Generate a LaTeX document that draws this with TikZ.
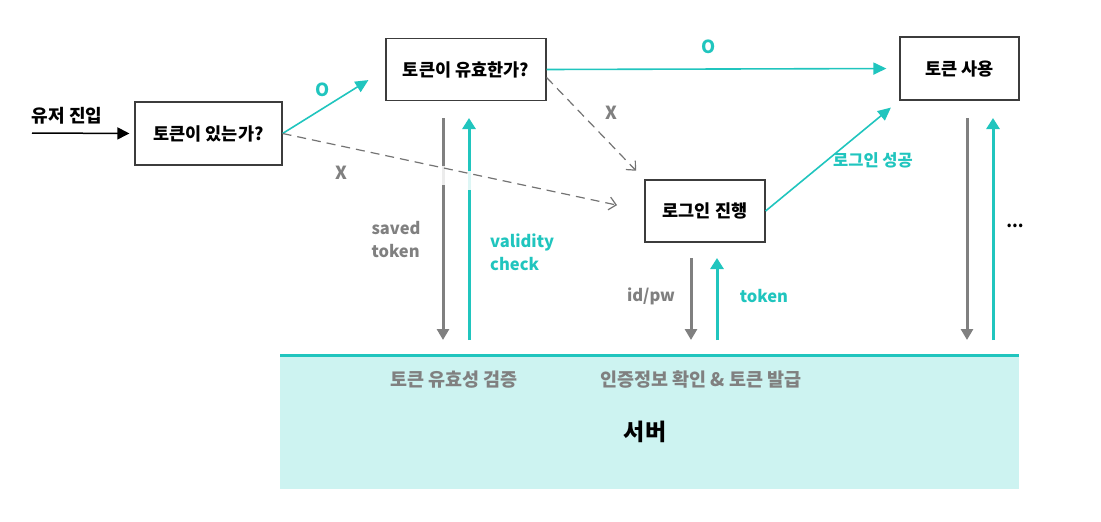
\documentclass[tikz,border=0pt]{standalone}
\usepackage{fontspec}
\setmainfont{Noto Sans CJK KR}
\usetikzlibrary{arrows.meta}
\definecolor{teal1}{RGB}{32,197,190}
\definecolor{gray1}{RGB}{128,128,128}
\definecolor{gray2}{RGB}{115,115,115}
\definecolor{srvfill}{RGB}{205,243,241}
\definecolor{boxline}{RGB}{60,60,60}
\tikzset{
  box/.style={draw=boxline, line width=1.2pt, fill=white, font=\fontsize{17.5}{20}\selectfont\bfseries, inner sep=0pt},
  tealarr/.style={draw=teal1, line width=1.6pt, -{Triangle[length=13pt,width=12pt]}},
  dasharr/.style={draw=gray2, line width=1.2pt, dash pattern=on 9pt off 6pt, -{Straight Barb[length=7pt,width=13pt,line width=1.2pt]}},
  vgray/.style={draw=gray1, line width=3pt, -{Triangle[length=11pt,width=12pt]}},
  vteal/.style={draw=teal1, line width=3pt, -{Triangle[length=11pt,width=13pt]}},
  lbl/.style={font=\fontsize{16.5}{23}\selectfont\bfseries, inner sep=0pt},
  big/.style={font=\fontsize{18}{23}\selectfont\bfseries, inner sep=0pt},
  srvlbl/.style={font=\fontsize{18.5}{22}\selectfont\bfseries, text=gray1, inner sep=0pt},
}
\begin{document}
\begin{tikzpicture}[x=1pt,y=-1pt]
\useasboundingbox (0,0) rectangle (1101,522);
% server
\fill[srvfill] (280,355) rectangle (1019,489);
\draw[teal1, line width=3pt] (280,355) -- (1019,355);
\node[srvlbl] (sv1) at (454,380) {토큰 유효성 검증};
\node[srvlbl] (sv2) at (701,380) {인증정보 확인 \& 토큰 발급};
\node[font=\fontsize{23}{26}\selectfont\bfseries, inner sep=0pt] (srv) at (645,432) {서버};

% boxes
\node[box, minimum width=147pt, minimum height=63pt] (b1) at (208.5,133.5) {토큰이 있는가?};
\node[box, minimum width=160pt, minimum height=62pt] (b2) at (466,69.5) {토큰이 유효한가?};
\node[box, minimum width=119pt, minimum height=63pt] (b3) at (959.5,68.5) {토큰 사용};
\node[box, minimum width=120pt, minimum height=62pt] (b4) at (705,211) {로그인 진행};

% entry
\coordinate (start) at (32,133);
\node[big] (entry) at (67,116) {유저 진입};
\draw[line width=1.5pt, -{Triangle[length=12pt,width=12pt]}, shorten >=5pt] (start) -- (b1.west);

% vertical arrows
\coordinate (g1t) at (443,118); \coordinate (g1b) at (443,340);
\coordinate (t1t) at (469,118); \coordinate (t1b) at (469,340);
\coordinate (g2t) at (691,258); \coordinate (g2b) at (691,340);
\coordinate (t2t) at (717,258); \coordinate (t2b) at (717,340);
\coordinate (g3t) at (967,118); \coordinate (g3b) at (967,340);
\coordinate (t3t) at (993,118); \coordinate (t3b) at (993,340);
\draw[vgray] (g1t) -- (g1b);
\draw[vteal] (t1b) -- (t1t);
\draw[vgray] (g2t) -- (g2b);
\draw[vteal] (t2b) -- (t2t);
\draw[vgray] (g3t) -- (g3b);
\draw[vteal] (t3b) -- (t3t);
% light gap where dashed line crosses
\fill[white, opacity=0.85] (439,166) rectangle (447,185);
\fill[white, opacity=0.85] (465,171) rectangle (473,190);

% connectors
\draw[tealarr, shorten >=20pt] (b1.east) -- (b2.west);
\draw[tealarr, shorten >=13pt] (b2.east) -- (b3.west);
\draw[tealarr, shorten >=11pt] (b4.east) -- (b3.south west);
\draw[dasharr, shorten >=28pt] (b1.east) -- (b4.west);
\draw[dasharr, shorten >=12pt] ([yshift=-8pt]b2.east) -- (b4.north west);

% labels
\node[big, text=teal1] (o1) at (323,90) {O};
\node[big, text=teal1] (o2) at (709,47) {O};
\node[big, text=gray1] (x1) at (341,173) {X};
\node[big, text=gray1] (x2) at (611,113) {X};
\node[lbl, text=teal1] (ls) at (873,160) {로그인 성공};
\node[lbl, text=gray1, align=left] (st) at (396,240) {saved\\token};
\node[lbl, text=teal1, align=left, anchor=west] (vc) at (490,252) {validity\\check};
\node[lbl, text=gray1] (idpw) at (651,296) {id/pw};
\node[lbl, text=teal1] (tok) at (764,296) {token};
\node[lbl] (dots) at (1015,226) {...};
\end{tikzpicture}
\end{document}
